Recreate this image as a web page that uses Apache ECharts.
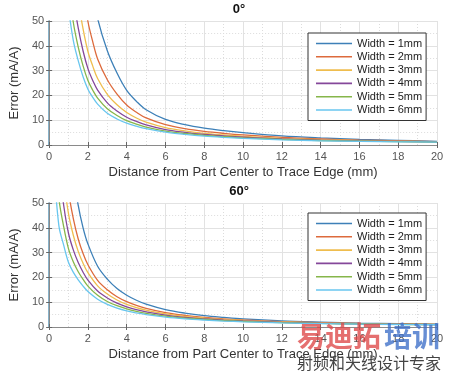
<!DOCTYPE html>
<html>
<head>
<meta charset="utf-8">
<script src="https://cdn.jsdelivr.net/npm/echarts@6/dist/echarts.min.js"></script>
<style>
  html, body { margin: 0; padding: 0; background: #fff; }
  #chart { width: 450px; height: 376px; }
</style>
</head>
<body>
<div id="chart"></div>
<script>
// legend labels
const widths = ["Width = 1mm", "Width = 2mm", "Width = 3mm", "Width = 4mm", "Width = 5mm", "Width = 6mm"];
const colors = ["#3d80b8", "#dd6a3c", "#efbd4e", "#85479a", "#86b64a", "#68c6ef"];

// 0 degree panel, distance (mm)
const xTop = [1, 1.25, 1.5, 1.75, 2, 2.25, 2.5, 3, 3.5, 4, 4.5, 5, 6, 7, 8, 9, 10, 12, 14, 16, 18, 20];
const top1mm = [220, 160, 120, 95, 75, 62, 51, 38, 29, 22, 17.6, 14.2, 10.3, 8.2, 6.8, 5.8, 5.0, 3.7, 2.9, 2.3, 1.9, 1.5];
const top2mm = [137, 101.6, 78.1, 62.3, 49.8, 41.6, 34.7, 26.3, 20.5, 16.1, 13.2, 10.9, 8.2, 6.6, 5.5, 4.7, 4.05, 3.05, 2.42, 1.97, 1.67, 1.37];
const top3mm = [99.8, 74.7, 58.5, 46.8, 37.7, 31.8, 26.8, 20.4, 16.2, 13.1, 10.9, 9.2, 7.0, 5.7, 4.7, 4.05, 3.5, 2.68, 2.14, 1.77, 1.53, 1.29];
const top4mm = [78.9, 59.5, 47.2, 37.9, 30.8, 26.0, 22.1, 17.0, 13.7, 11.2, 9.5, 8.1, 6.2, 5.1, 4.25, 3.65, 3.15, 2.43, 1.95, 1.64, 1.43, 1.23];
const top5mm = [65.0, 49.3, 39.5, 31.9, 26.0, 22.1, 18.9, 14.6, 11.9, 9.8, 8.4, 7.2, 5.6, 4.65, 3.9, 3.35, 2.9, 2.25, 1.81, 1.53, 1.36, 1.19];
const top6mm = [55, 42, 34, 27.5, 22.5, 19.2, 16.5, 12.8, 10.5, 8.8, 7.6, 6.6, 5.2, 4.3, 3.6, 3.1, 2.7, 2.1, 1.7, 1.45, 1.3, 1.15];

// 60 degree panel
const xBot = [0.25, 0.5, 0.75, 1, 1.25, 1.5, 1.75, 2, 2.5, 3, 3.5, 4, 4.5, 5, 6, 7, 8, 9, 10, 12, 14, 16, 18, 20];
const bot1mm = [300, 170, 110, 80, 62, 49, 40, 33.5, 24.5, 19.3, 15.5, 12.8, 10.8, 9.2, 7.0, 5.6, 4.6, 3.9, 3.3, 2.5, 2.0, 1.6, 1.35, 1.15];
const bot2mm = [178, 104.8, 73.1, 54.6, 43.6, 35.5, 29.6, 25.1, 18.8, 15.0, 12.2, 10.2, 8.7, 7.5, 5.8, 4.7, 3.9, 3.3, 2.83, 2.17, 1.75, 1.43, 1.22, 1.06];
const bot3mm = [140, 83.5, 60.3, 45.6, 36.9, 30.5, 25.7, 21.9, 16.6, 13.3, 10.9, 9.1, 7.8, 6.8, 5.3, 4.3, 3.6, 3.05, 2.63, 2.03, 1.64, 1.36, 1.16, 1.02];
const bot4mm = [108, 65.6, 49.1, 37.7, 31.0, 26.0, 22.1, 18.9, 14.5, 11.7, 9.6, 8.1, 7.0, 6.1, 4.8, 3.9, 3.3, 2.8, 2.44, 1.89, 1.54, 1.28, 1.10, 0.98];
const bot5mm = [84, 52.2, 40.5, 31.5, 26.2, 22.3, 19.2, 16.5, 12.8, 10.3, 8.6, 7.3, 6.3, 5.5, 4.4, 3.6, 3.05, 2.6, 2.27, 1.77, 1.44, 1.22, 1.05, 0.94];
const bot6mm = [65, 41, 33, 26, 22, 19, 16.5, 14.3, 11.2, 9.1, 7.6, 6.5, 5.7, 5.0, 4.0, 3.3, 2.8, 2.4, 2.1, 1.65, 1.35, 1.15, 1.0, 0.9];

const xTicks = { min: 0, max: 20, interval: 2 };
const yTicks = { min: 0, max: 50, interval: 10 };

const font = "'Liberation Sans', Arial, sans-serif";
const boxColor = "#8a8a8a";

const chart = echarts.init(document.getElementById("chart"));

const grids = [
  { left: 41, right: 13, top: 21, height: 124 },
  { left: 41, right: 13, top: 203, height: 124 },
];

function mainX(gi) {
  return {
    type: "value", gridIndex: gi, ...xTicks,
    name: "Distance from Part Center to Trace Edge (mm)",
    nameLocation: "middle", nameGap: 21,
    nameTextStyle: { fontFamily: font, fontSize: 13, color: "#333" },
    axisLine: { lineStyle: { color: boxColor, width: 1 } },
    axisTick: { inside: true, length: 3, lineStyle: { color: "#666" } },
    axisLabel: { fontFamily: font, fontSize: 11, color: "#555", margin: 6 },
    splitLine: { show: true, lineStyle: { color: "#e2e2e2", width: 1 } },
    minorTick: { show: false, splitNumber: 2 },
    minorSplitLine: { show: true, lineStyle: { color: "#dcdcdc", type: [1, 2] } },
  };
}
function mirrorX(gi) {
  return {
    type: "value", gridIndex: gi, position: "top", ...xTicks,
    axisLine: { lineStyle: { color: boxColor } },
    axisTick: { inside: true, length: 3, lineStyle: { color: "#666" } },
    axisLabel: { show: false }, splitLine: { show: false },
  };
}
function mainY(gi) {
  return {
    type: "value", gridIndex: gi, ...yTicks,
    name: "Error (mA/A)", nameLocation: "middle", nameGap: 26,
    nameTextStyle: { fontFamily: font, fontSize: 13, color: "#333" },
    axisLine: { show: true, lineStyle: { color: "#5f97b6", width: 1.5 } },
    axisTick: { show: true, inside: true, length: 3, lineStyle: { color: "#666" } },
    axisLabel: { fontFamily: font, fontSize: 11, color: "#555", margin: 5 },
    splitLine: { show: true, lineStyle: { color: "#e2e2e2", width: 1 } },
    minorTick: { show: false, splitNumber: 2 },
    minorSplitLine: { show: true, lineStyle: { color: "#dcdcdc", type: [1, 2] } },
  };
}
function mirrorY(gi) {
  return {
    type: "value", gridIndex: gi, position: "right", ...yTicks,
    axisLine: { show: true, lineStyle: { color: boxColor } },
    axisTick: { show: true, inside: true, length: 3, lineStyle: { color: "#666" } },
    axisLabel: { show: false }, splitLine: { show: false },
  };
}

function makeSeries(xs, arrays, gi) {
  return arrays.map((vals, i) => ({
    name: widths[i],
    type: "line",
    xAxisIndex: gi * 2,
    yAxisIndex: gi * 2,
    data: xs.map((x, j) => [x, vals[j]]),
    smooth: 0.35,
    symbol: "none",
    clip: true,
    z: 3 + i,
    lineStyle: { color: colors[i], width: 1.3 },
    itemStyle: { color: colors[i] },
  }));
}

const legendBase = {
  orient: "vertical",
  left: 308,
  icon: "rect",
  itemWidth: 36,
  itemHeight: 1.6,
  itemGap: 2.3,
  padding: [5, 4, 5, 8],
  borderColor: "#333",
  borderWidth: 1,
  borderRadius: 0,
  backgroundColor: "#fff",
  data: widths,
  textStyle: { fontFamily: font, fontSize: 11, lineHeight: 11, color: "#222" },
};

const titleStyle = { fontFamily: font, fontSize: 13, fontWeight: "bold", color: "#111" };

chart.setOption({
  animation: false,
  grid: grids,
  title: [
    { text: "0°", left: 239, top: 3, padding: 0, textAlign: "center", textStyle: titleStyle },
    { text: "60°", left: 239, top: 185, padding: 0, textAlign: "center", textStyle: titleStyle },
  ],
  legend: [
    { ...legendBase, top: 33 },
    { ...legendBase, top: 213 },
  ],
  xAxis: [mainX(0), mirrorX(0), mainX(1), mirrorX(1)],
  yAxis: [mainY(0), mirrorY(0), mainY(1), mirrorY(1)],
  series: [
    ...makeSeries(xTop, [top1mm, top2mm, top3mm, top4mm, top5mm, top6mm], 0),
    ...makeSeries(xBot, [bot1mm, bot2mm, bot3mm, bot4mm, bot5mm, bot6mm], 1),
  ],
  graphic: [
    { type: "text", left: 297, top: 322, z: 100,
      style: { text: "易迪拓", font: "bold 28px 'Noto Sans CJK SC'", fill: "rgba(222,70,70,0.78)" } },
    { type: "text", left: 384, top: 322, z: 100,
      style: { text: "培训", font: "bold 28px 'Noto Sans CJK SC'", fill: "rgba(60,110,200,0.78)" } },
    { type: "text", left: 297, top: 355, z: 100,
      style: { text: "射频和天线设计专家", font: "16px 'Noto Sans CJK SC'", fill: "#444" } },
  ],
});
</script>
</body>
</html>
